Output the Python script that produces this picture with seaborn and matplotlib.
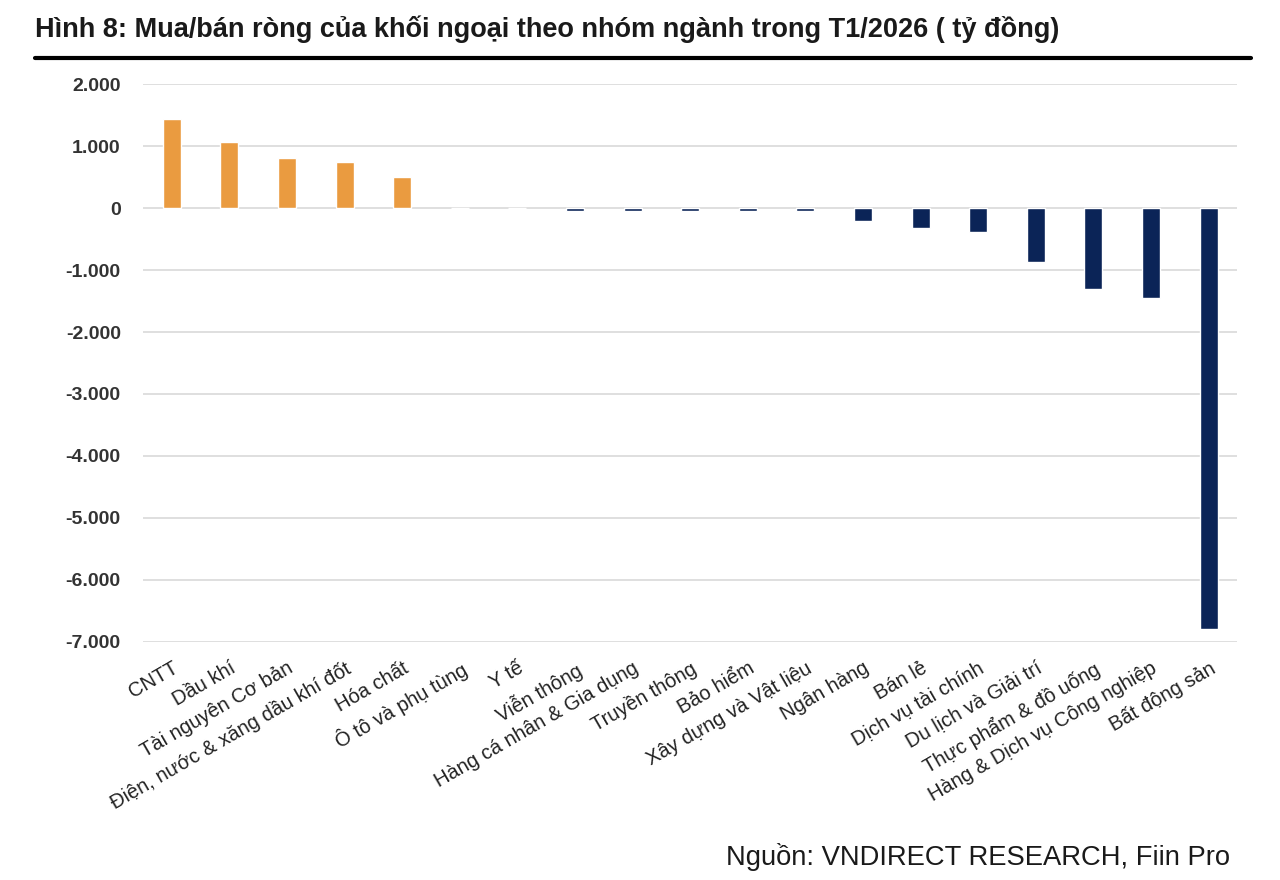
import matplotlib
matplotlib.use("Agg")
import matplotlib.pyplot as plt
import seaborn as sns
import pandas as pd
from matplotlib.lines import Line2D
from matplotlib.ticker import FuncFormatter

# Dữ liệu (tỷ đồng)
nganh = [
    "CNTT", "Dầu khí", "Tài nguyên Cơ bản", "Điện, nước & xăng dầu khí đốt",
    "Hóa chất", "Ô tô và phụ tùng", "Y tế", "Viễn thông",
    "Hàng cá nhân & Gia dụng", "Truyền thông", "Bảo hiểm",
    "Xây dựng và Vật liệu", "Ngân hàng", "Bán lẻ", "Dịch vụ tài chính",
    "Du lịch và Giải trí", "Thực phẩm & đồ uống",
    "Hàng & Dịch vụ Công nghiệp", "Bất động sản",
]
gia_tri = [1435, 1065, 806, 742, 500, 0, 0, -45, -40, -40, -40, -40,
           -210, -320, -390, -870, -1300, -1450, -6790]
y_ticks = [2000, 1000, 0, -1000, -2000, -3000, -4000, -5000, -6000, -7000]

df = pd.DataFrame({"Ngành": nganh, "Giá trị": gia_tri})
mau = {n: ("#EA9B40" if v > 0 else "#0B2457") for n, v in zip(nganh, gia_tri)}

sns.set_theme(style="white")
plt.rcParams["font.family"] = ["Liberation Sans", "DejaVu Sans"]

fig = plt.figure(figsize=(12.8, 8.8), dpi=100)
ax = fig.add_axes([0.1117, 0.2705, 0.855, 0.634])

sns.barplot(data=df, x="Ngành", y="Giá trị", hue="Ngành", palette=mau,
            legend=False, width=0.31, saturation=1, ax=ax, zorder=3)

ax.set_ylim(-7000, 2000)
ax.set_yticks(y_ticks)
ax.yaxis.set_major_formatter(FuncFormatter(lambda v, p: f"{int(v):,}".replace(",", ".")))
ax.grid(axis="y", color="#DCDCDC", linewidth=1.3, zorder=0)
for s in ax.spines.values():
    s.set_visible(False)
ax.tick_params(axis="y", length=0, pad=16, labelsize=14, labelcolor="#333333")
for lb in ax.get_yticklabels():
    lb.set_fontweight("bold")
ax.tick_params(axis="x", length=0, pad=12, labelsize=14.5, labelcolor="#222222")
ax.set_xticks(range(len(nganh)))
ax.set_xticklabels(nganh, rotation=30, ha="right", rotation_mode="anchor")
ax.set_xlabel("")
ax.set_ylabel("")
ax.set_xlim(-0.5, len(nganh) - 0.5)

fig.text(0.027, 0.983, "Hình 8: Mua/bán ròng của khối ngoại theo nhóm ngành trong T1/2026 ( tỷ đồng)",
         fontsize=19.5, fontweight="bold", color="#1a1a1a", va="top", ha="left")
fig.add_artist(Line2D([0.027, 0.977], [0.934, 0.934], color="black", linewidth=3,
                      transform=fig.transFigure))
fig.text(0.961, 0.03, "Nguồn: VNDIRECT RESEARCH, Fiin Pro", fontsize=19.7,
         color="#1a1a1a", ha="right", va="center_baseline")

plt.savefig("out.png", dpi=100)
plt.close()
